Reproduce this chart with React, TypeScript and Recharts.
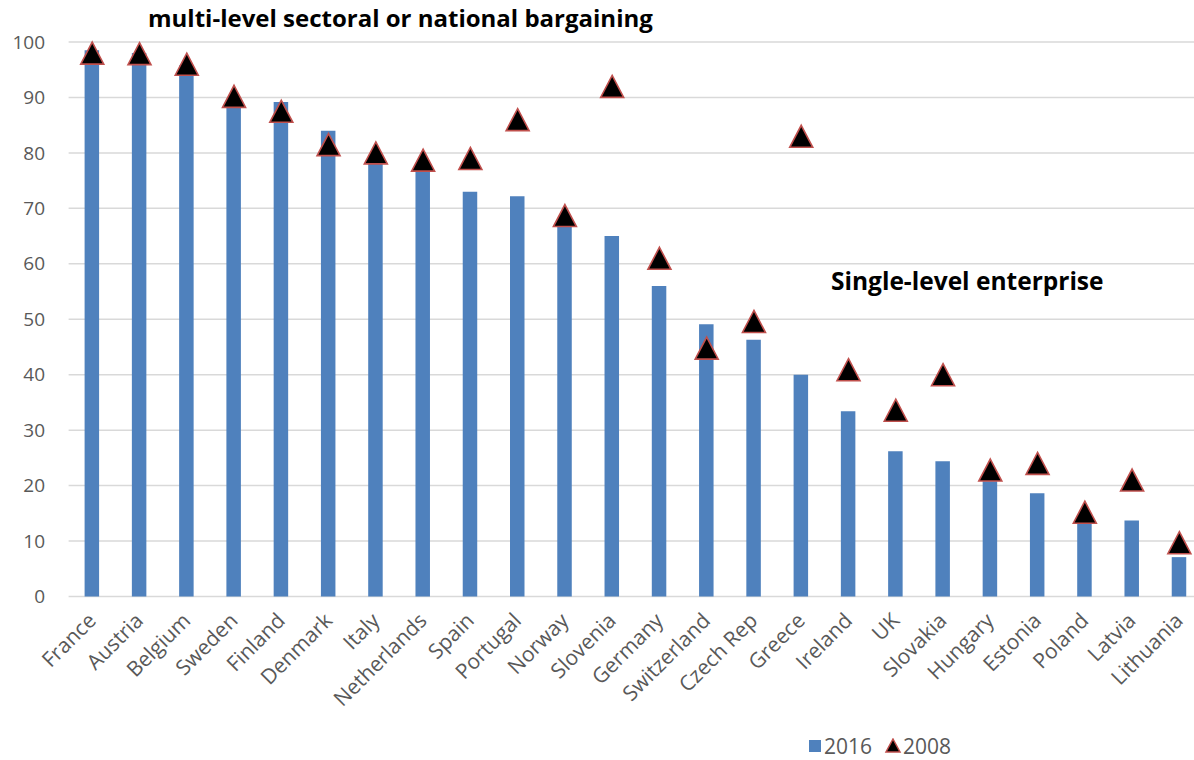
import React from 'react'
import { ComposedChart, Bar, Line, XAxis, YAxis, CartesianGrid } from 'recharts'

const countries = [
  'France', 'Austria', 'Belgium', 'Sweden', 'Finland', 'Denmark', 'Italy', 'Netherlands',
  'Spain', 'Portugal', 'Norway', 'Slovenia', 'Germany', 'Switzerland', 'Czech Rep', 'Greece',
  'Ireland', 'UK', 'Slovakia', 'Hungary', 'Estonia', 'Poland', 'Latvia', 'Lithuania',
]

const coverage2016 = [
  98.5, 98, 95.8, 89, 89.2, 84, 78, 77,
  73, 72.2, 67, 65, 56, 49.1, 46.3, 40,
  33.4, 26.2, 24.4, 20.8, 18.6, 13.3, 13.7, 7.1,
]

const coverage2008 = [
  98, 97.9, 96, 90.2, 87.5, 81.5, 80, 78.7,
  79, 86, 68.7, 92, 61, 44.8, 49.6, 83,
  40.9, 33.6, 40, 22.8, 24, 15.2, 21, 9.7,
]

const yTicks = [0, 10, 20, 30, 40, 50, 60, 70, 80, 90, 100]

const data = countries.map((name, i) => ({
  name,
  y2016: coverage2016[i],
  y2008: coverage2008[i],
}))

const FONT = '"Open Sans", sans-serif'
const BAR_BLUE = '#4f81bd'
const TRI_RED = '#c0504d'
const LABEL_GREY = '#595959'

// black triangle with a red outline, centred on the 2008 value
const Triangle = (props: any) => {
  const { cx, cy } = props
  if (cx == null || cy == null) return null
  const w = 11.5
  const h = 11
  return (
    <path
      d={`M${cx},${cy - h} L${cx + w},${cy + h} L${cx - w},${cy + h} Z`}
      fill="#000"
      stroke={TRI_RED}
      strokeWidth={1.6}
    />
  )
}

const CountryTick = (props: any) => {
  const { x, payload } = props
  const px = x + 5
  const py = 622
  return (
    <text
      x={px}
      y={py}
      textAnchor="end"
      transform={`rotate(-45, ${px}, ${py})`}
      fill={LABEL_GREY}
      fontSize={21}
      fontFamily={FONT}
    >
      {payload.value}
    </text>
  )
}

const ValueTick = (props: any) => {
  const { y, payload } = props
  return (
    <text x={45} y={y} dy="0.35em" textAnchor="end" fill={LABEL_GREY} fontSize={19} fontFamily={FONT}>
      {payload.value}
    </text>
  )
}

const LegendRow = () => (
  <div
    style={{
      position: 'absolute',
      left: 808,
      top: 732,
      display: 'flex',
      alignItems: 'center',
      fontFamily: FONT,
      fontSize: 21,
      color: LABEL_GREY,
      whiteSpace: 'nowrap',
    }}
  >
    <svg width={14} height={14} style={{ marginRight: 2 }}>
      <rect x={1} y={1} width={12} height={12} fill={BAR_BLUE} />
    </svg>
    <span>2016</span>
    <svg width={18} height={16} style={{ marginLeft: 12, marginRight: 1 }}>
      <path d="M9,1 L16,14 L2,14 Z" fill="#000" stroke={TRI_RED} strokeWidth={1.5} />
    </svg>
    <span>2008</span>
  </div>
)

export default function App() {
  return (
    <div
      style={{
        position: 'absolute',
        left: 0,
        top: 0,
        width: 1194,
        height: 760,
        overflow: 'hidden',
        background: '#fff',
      }}
    >
      <ComposedChart
        width={1203}
        height={760}
        data={data}
        margin={{ top: 42, right: 0, bottom: 133.5, left: 0 }}
      >
        <CartesianGrid vertical={false} stroke="#d9d9d9" strokeWidth={1.5} />
        <XAxis
          dataKey="name"
          height={30}
          interval={0}
          axisLine={false}
          tickLine={false}
          tick={<CountryTick />}
        />
        <YAxis
          width={68.6}
          domain={[0, 100]}
          ticks={yTicks}
          axisLine={false}
          tickLine={false}
          tick={<ValueTick />}
        />
        <Bar dataKey="y2016" fill={BAR_BLUE} barSize={14.5} isAnimationActive={false} />
        <Line
          dataKey="y2008"
          stroke="none"
          dot={<Triangle />}
          activeDot={false}
          isAnimationActive={false}
        />
        <text x={148} y={27} fontSize={24} fontWeight={700} fontFamily={FONT} fill="#000">
          multi-level sectoral or national bargaining
        </text>
        <text x={831} y={290} fontSize={24.5} fontWeight={700} fontFamily={FONT} fill="#000">
          Single-level enterprise
        </text>
      </ComposedChart>
      <LegendRow />
    </div>
  )
}
